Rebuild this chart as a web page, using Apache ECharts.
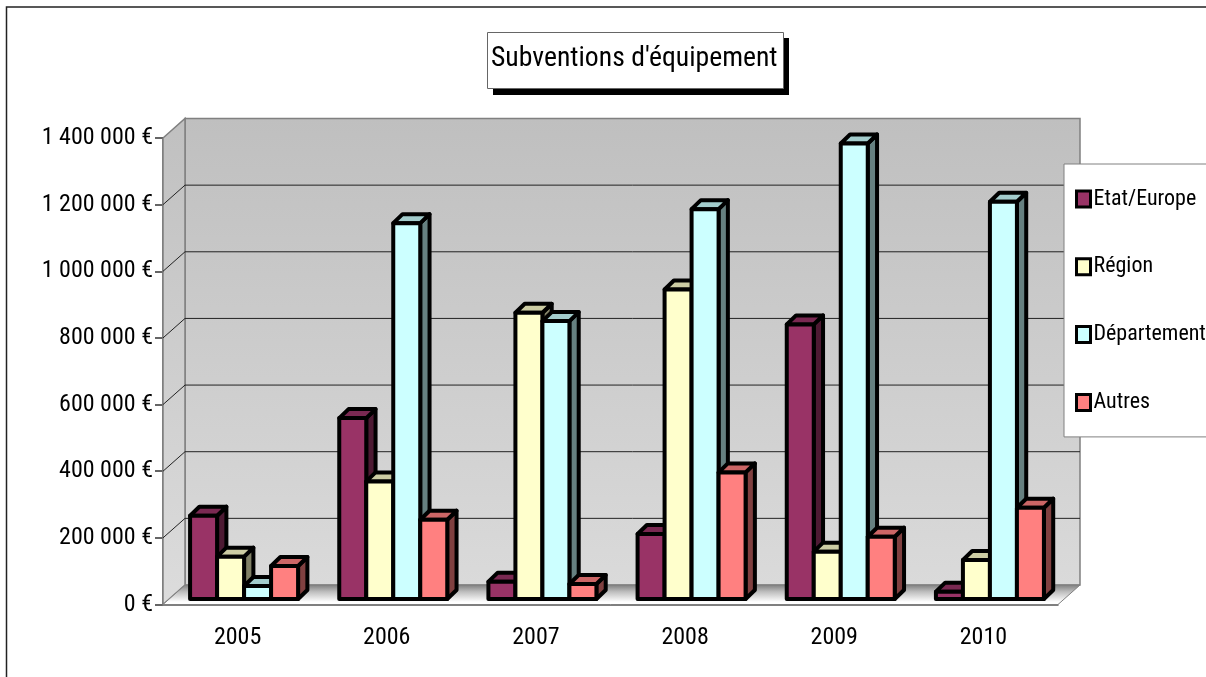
<!DOCTYPE html>
<html>
<head>
<meta charset="utf-8">
<style>
  html, body { margin: 0; padding: 0; background: #fff; }
  #chart { width: 1206px; height: 677px; }
</style>
<script src="https://cdn.jsdelivr.net/npm/echarts@6/dist/echarts.min.js"></script>
</head>
<body>
<div id="chart"></div>
<script>
// Subsidy amounts per year and funder, in euros.
const years = ['2005', '2006', '2007', '2008', '2009', '2010'];
const etatEurope = [250000, 543000, 52000, 195000, 824000, 22000];
const region = [127000, 353000, 859000, 929000, 142000, 117000];
const departement = [39000, 1128000, 834000, 1170000, 1367000, 1192000];
const autres = [99000, 238000, 45000, 380000, 187000, 274000];
const funders = ['Etat/Europe', 'Région', 'Département', 'Autres'];
const yTicks = [0, 200000, 400000, 600000, 800000, 1000000, 1200000, 1400000];

const FONT = '"Roboto Condensed", Roboto, sans-serif';
const faces = [
  { front: '#993366', top: '#7a2952', side: '#4d1a33' },
  { front: '#FFFFCC', top: '#ccccA3', side: '#808066' },
  { front: '#CCFFFF', top: '#a3cccc', side: '#668080' },
  { front: '#FF8080', top: '#cc6666', side: '#804040' }
];

// Oblique projection of the 3D box: room depth, bar depth, and how far
// the columns sit inside the room.
const ROOM = { dx: 22, dy: -19.5 };
const BAR = { dx: 9.3, dy: -9, widthRatio: 0.181 };
const inset = { dx: 6.5, dy: -5.5 };

function pts(list) { return { points: list }; }

// Back wall, side wall, floor and grid lines of the 3D room.
function renderRoom(params, api) {
  const x0 = api.coord([0, 0])[0] - api.size([1, 0])[0] / 2;
  const x1 = x0 + api.size([1, 0])[0] * years.length;
  const y0 = api.coord([0, 0])[1];
  const yTop = api.coord([0, yTicks[yTicks.length - 1]])[1];
  const vGrad = (a, b) => new echarts.graphic.LinearGradient(0, 0, 0, 1, [
    { offset: 0, color: a }, { offset: 1, color: b }
  ]);
  const children = [
    {
      type: 'polygon',
      shape: pts([[x0 + ROOM.dx, yTop + ROOM.dy], [x1 + ROOM.dx, yTop + ROOM.dy], [x1 + ROOM.dx, y0 + ROOM.dy], [x0 + ROOM.dx, y0 + ROOM.dy]]),
      style: { fill: vGrad('#bfbfbf', '#dadada'), stroke: '#808080', lineWidth: 1.5 }
    },
    {
      type: 'polygon',
      shape: pts([[x0, yTop], [x0 + ROOM.dx, yTop + ROOM.dy], [x0 + ROOM.dx, y0 + ROOM.dy], [x0, y0]]),
      style: { fill: vGrad('#c0c0c0', '#dcdcdc'), stroke: '#808080', lineWidth: 1.5 }
    },
    {
      type: 'polygon',
      shape: pts([[x0, y0], [x1, y0], [x1 + ROOM.dx, y0 + ROOM.dy], [x0 + ROOM.dx, y0 + ROOM.dy]]),
      style: {
        fill: new echarts.graphic.LinearGradient(0, 0, 0, 1, [
          { offset: 0, color: '#7c7c7c' }, { offset: 0.35, color: '#bdbdbd' }, { offset: 0.85, color: '#ffffff' }, { offset: 1, color: '#ffffff' }
        ]),
        stroke: '#808080', lineWidth: 1
      }
    }
  ];
  yTicks.slice(1, -1).forEach(function (v) {
    const y = api.coord([0, v])[1];
    children.push({
      type: 'polyline',
      shape: pts([[x0, y], [x0 + ROOM.dx, y + ROOM.dy], [x1 + ROOM.dx, y + ROOM.dy]]),
      style: { fill: null, stroke: '#222222', lineWidth: 1 }
    });
  });
  return { type: 'group', children: children };
}

// One extruded column: side and top faces behind the front face.
function barRenderer(seriesIdx) {
  return function (params, api) {
    const band = api.size([1, 0])[0];
    const p = api.coord([api.value(0), api.value(1)]);
    const base = api.coord([api.value(0), 0]);
    const w = band * BAR.widthRatio;
    const left = p[0] - 2 * w + seriesIdx * w + inset.dx;
    const top = p[1] + inset.dy;
    const bottom = base[1] + inset.dy;
    const right = left + w;
    const f = faces[seriesIdx];
    const stroke = { stroke: '#000', lineWidth: 4, lineJoin: 'round' };
    return {
      type: 'group',
      children: [
        { type: 'polygon', shape: pts([[right, top], [right + BAR.dx, top + BAR.dy], [right + BAR.dx, bottom + BAR.dy], [right, bottom]]), style: Object.assign({ fill: f.side }, stroke) },
        { type: 'polygon', shape: pts([[left, top], [left + BAR.dx, top + BAR.dy], [right + BAR.dx, top + BAR.dy], [right, top]]), style: Object.assign({ fill: f.top }, stroke) },
        { type: 'rect', shape: { x: left, y: top, width: w, height: bottom - top }, style: Object.assign({ fill: f.front }, stroke) }
      ]
    };
  };
}

const columns = [etatEurope, region, departement, autres];

const chart = echarts.init(document.getElementById('chart'), null, { renderer: 'canvas' });
chart.setOption({
  animation: false,
  backgroundColor: '#ffffff',
  textStyle: { fontFamily: FONT },
  graphic: [
    // Outer chart frame, running past the right and bottom edges of the page.
    {
      type: 'polyline', silent: true, z: 0,
      shape: { points: [[6.5, 690], [6.5, 7], [1220, 7]] },
      style: { fill: null, stroke: '#222222', lineWidth: 1.5 }
    },
    // Title plate and its hard drop shadow.
    {
      type: 'rect', silent: true, z: 5,
      shape: { x: 493, y: 38, width: 296, height: 57 },
      style: { fill: '#000000' }
    },
    {
      type: 'rect', silent: true, z: 6,
      shape: { x: 487.5, y: 32.5, width: 296, height: 56 },
      style: { fill: '#ffffff', stroke: '#666666', lineWidth: 1 }
    }
  ],
  title: {
    text: "Subventions d'équipement",
    left: 491,
    top: 45,
    padding: 0,
    z: 7,
    textStyle: { fontFamily: FONT, fontSize: 27.7, fontWeight: 'normal', color: '#000' }
  },
  legend: {
    orient: 'vertical',
    left: 1064,
    top: 164,
    padding: [24, 30, 23.5, 11],
    itemGap: 45.8,
    itemWidth: 14,
    itemHeight: 16,
    icon: 'rect',
    backgroundColor: '#ffffff',
    borderColor: '#808080',
    borderWidth: 1,
    data: funders,
    selectedMode: false,
    itemStyle: { borderColor: '#000', borderWidth: 3 },
    textStyle: { fontFamily: FONT, fontSize: 22, color: '#000', padding: [0, 0, 0, -2] }
  },
  grid: { left: 163, right: 148, top: 138, bottom: 72.5, containLabel: false },
  xAxis: {
    type: 'category',
    data: years,
    axisLine: { lineStyle: { color: '#555555', width: 1.5 } },
    axisTick: { length: 8, lineStyle: { color: '#555555', width: 1.5 } },
    axisLabel: { margin: 21, color: '#000', fontFamily: FONT, fontSize: 24 },
    splitLine: { show: false }
  },
  yAxis: {
    type: 'value',
    min: 0,
    max: 1400000,
    interval: 200000,
    axisLine: { show: true, lineStyle: { color: '#555555', width: 1.5 } },
    axisTick: { show: true, length: 8, lineStyle: { color: '#333333', width: 1.5 } },
    axisLabel: {
      margin: 10,
      color: '#000',
      fontFamily: FONT,
      fontSize: 24,
      formatter: function (v) {
        return String(v).replace(/\B(?=(\d{3})+$)/g, ' ') + ' €';
      }
    },
    splitLine: { show: false }
  },
  series: [
    { type: 'custom', name: 'room', silent: true, z: 1, renderItem: renderRoom, data: [[0, 0]], encode: { x: 0, y: 1 } }
  ].concat(funders.map(function (name, i) {
    return {
      type: 'custom',
      name: name,
      z: 3,
      renderItem: barRenderer(i),
      itemStyle: { color: faces[i].front },
      encode: { x: 0, y: 1 },
      data: columns[i].map(function (v, k) { return [k, v]; })
    };
  }))
});
</script>
</body>
</html>
